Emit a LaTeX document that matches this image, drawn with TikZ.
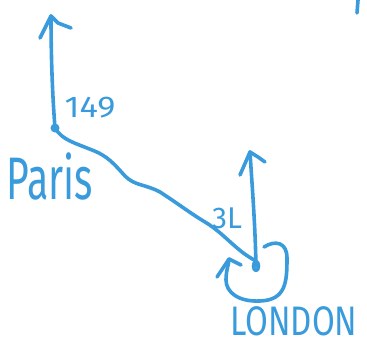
\documentclass[tikz,border=0pt]{standalone}
\usepackage{fontspec}
\setmainfont{Fira Sans}
\definecolor{pen}{HTML}{3A9BDC}
\begin{document}
\begin{tikzpicture}[x=1pt,y=-1pt,
  stroke/.style={draw=pen,line width=3.6pt,line cap=round,line join=round},
  lbl/.style={text=pen,inner sep=0pt}]
\useasboundingbox (0,0) rectangle (367,345);
% nodes
\coordinate (paris) at (55,128);
\coordinate (london) at (256,266);
\coordinate (pn) at (51,16);
\coordinate (ln) at (250,152);
\fill[pen] (paris) circle (4.5);
\draw[stroke] (london) ellipse (2.5 and 4.5);
% north arrows
\draw[stroke] (paris) .. controls (52,90) and (51,50) .. (pn);
\draw[stroke] (40,38) -- (pn) -- (58,23) -- (71,28);
\draw[stroke] (london) .. controls (255,220) and (252,185) .. (ln);
\draw[stroke] (240,175) -- (ln) -- (258,157) -- (265,162);
% route
\draw[stroke] (paris) .. controls (62,140) and (75,143) .. (92,150)
  .. controls (108,156) and (115,165) .. (125,176)
  .. controls (135,186) and (145,184) .. (160,192)
  .. controls (180,205) and (190,213) .. (205,222)
  .. controls (225,234) and (235,250) .. (256,261);
% angle arc at London
\draw[stroke] (264,247) .. controls (275,240) and (287,242) .. (287,258)
  .. controls (287,282) and (286,300) .. (260,301)
  .. controls (238,302) and (226,292) .. (226,280)
  .. controls (226,270) and (229,264) .. (229,259);
\draw[stroke] (217,277) -- (229,259) -- (241,265);
% stray mark top right
\draw[stroke] (358,0) -- (357,13);
% labels
\node[lbl,font=\fontsize{30}{30}\selectfont] (l149) at (90,108) {\scalebox{1.15}[1]{149}};
\node[lbl,font=\fontsize{40}{40}\selectfont] (lparis) at (50,176) {\scalebox{0.98}[1.5]{Paris}};
\node[lbl,font=\fontsize{30}{30}\selectfont] (l3l) at (227,218) {3L};
\node[lbl,font=\fontsize{33}{33}\selectfont] (llon) at (294,321) {\scalebox{1}[1.25]{LONDON}};
\end{tikzpicture}
\end{document}
